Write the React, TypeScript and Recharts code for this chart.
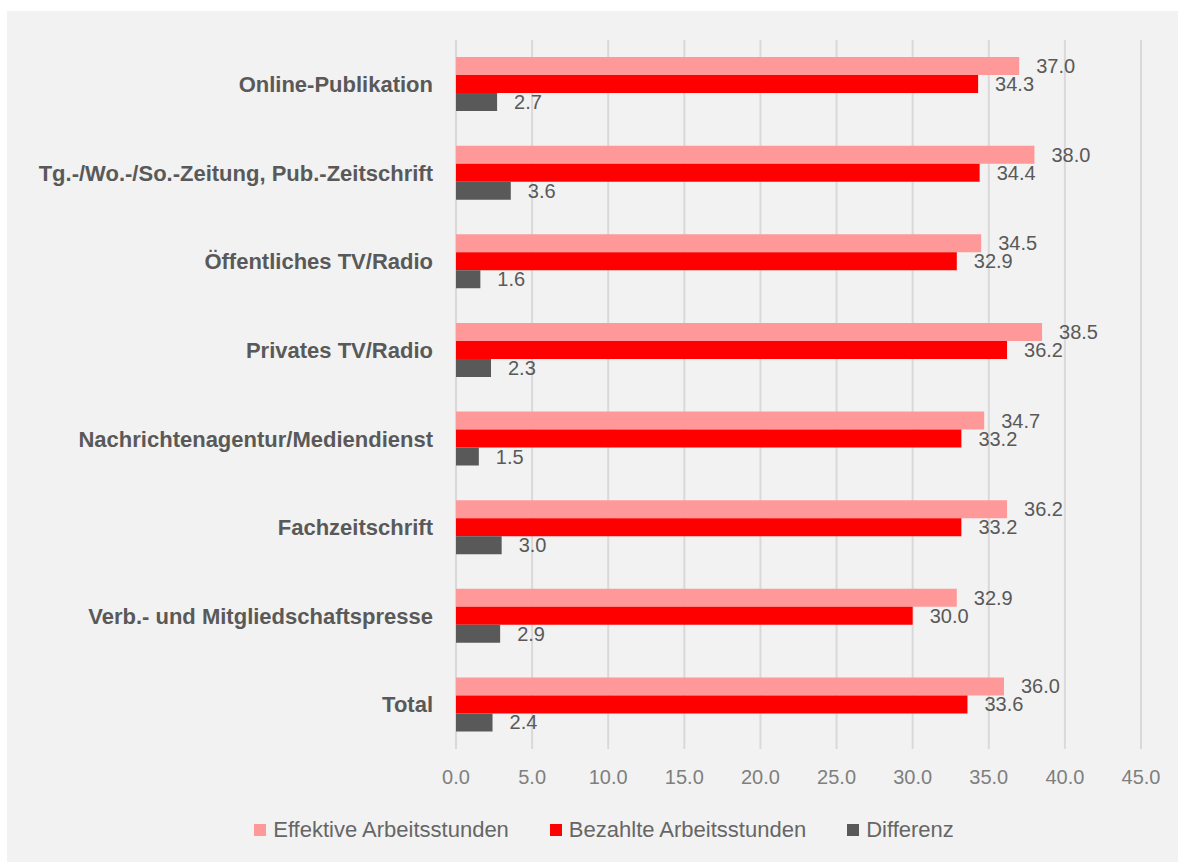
import React from "react";
import { BarChart, Bar, XAxis, YAxis, CartesianGrid, Legend, LabelList } from "recharts";

const categories = [
  "Online-Publikation",
  "Tg.-/Wo.-/So.-Zeitung, Pub.-Zeitschrift",
  "Öffentliches TV/Radio",
  "Privates TV/Radio",
  "Nachrichtenagentur/Mediendienst",
  "Fachzeitschrift",
  "Verb.- und Mitgliedschaftspresse",
  "Total",
];
const effektive = [37.0, 38.0, 34.5, 38.5, 34.7, 36.2, 32.9, 36.0];
const bezahlte = [34.3, 34.4, 32.9, 36.2, 33.2, 33.2, 30.0, 33.6];
const differenz = [2.7, 3.6, 1.6, 2.3, 1.5, 3.0, 2.9, 2.4];
const xTicks = [0, 5, 10, 15, 20, 25, 30, 35, 40, 45];

const seriesNames = ["Effektive Arbeitsstunden", "Bezahlte Arbeitsstunden", "Differenz"];
const colors = ["#ff9999", "#ff0000", "#595959"];

const data = categories.map((c, i) => ({
  name: c,
  eff: effektive[i],
  bez: bezahlte[i],
  diff: differenz[i],
}));

const FONT = "'Liberation Sans', Arial, Helvetica, sans-serif";

const LegendContent = () => (
  <div
    style={{
      display: "flex",
      justifyContent: "center",
      alignItems: "center",
      fontFamily: FONT,
      fontSize: 22,
      color: "#666666",
      paddingLeft: 23,
    }}
  >
    {seriesNames.map((n, i) => (
      <div key={n} style={{ display: "flex", alignItems: "center", marginRight: i < 2 ? 41 : 0 }}>
        <span style={{ display: "inline-block", width: 12, height: 12, background: colors[i], marginRight: 7 }} />
        <span>{n}</span>
      </div>
    ))}
  </div>
);

const fmt = (v: any) => Number(v).toFixed(1);

export default function App() {
  return (
    <div
      style={{
        position: "absolute",
        left: 7,
        top: 11,
        width: 1171,
        height: 851,
        background: "#f2f2f2",
      }}
    >
      <BarChart
        width={1171}
        height={851}
        data={data}
        layout="vertical"
        margin={{ top: 29, right: 37, bottom: 83, left: 0 }}
        barGap={0}
        barSize={18}
      >
        <CartesianGrid horizontal={false} stroke="#d9d9d9" strokeWidth={2} />
        <XAxis
          type="number"
          domain={[0, 45]}
          ticks={xTicks}
          tickFormatter={fmt}
          axisLine={false}
          tickLine={false}
          tickSize={0}
          tickMargin={21}
          height={30}
          tick={{ fill: "#7f7f7f", fontSize: 20, fontFamily: FONT }}
          interval={0}
        />
        <YAxis
          type="category"
          dataKey="name"
          width={449}
          axisLine={false}
          tickLine={false}
          tickSize={0}
          tickMargin={23}
          interval={0}
          tick={{ fill: "#595959", fontSize: 22, fontWeight: "bold", fontFamily: FONT }}
        />
        <Legend
          layout="horizontal"
          verticalAlign="middle"
          align="center"
          wrapperStyle={{ top: 806, left: 0, width: 1171 }}
          content={<LegendContent />}
        />
        <Bar dataKey="eff" name={seriesNames[0]} fill={colors[0]} isAnimationActive={false}>
          <LabelList dataKey="eff" position="right" offset={17} formatter={fmt} fill="#595959" fontSize={20} fontFamily={FONT} />
        </Bar>
        <Bar dataKey="bez" name={seriesNames[1]} fill={colors[1]} isAnimationActive={false}>
          <LabelList dataKey="bez" position="right" offset={17} formatter={fmt} fill="#595959" fontSize={20} fontFamily={FONT} />
        </Bar>
        <Bar dataKey="diff" name={seriesNames[2]} fill={colors[2]} isAnimationActive={false}>
          <LabelList dataKey="diff" position="right" offset={17} formatter={fmt} fill="#595959" fontSize={20} fontFamily={FONT} />
        </Bar>
      </BarChart>
    </div>
  );
}
